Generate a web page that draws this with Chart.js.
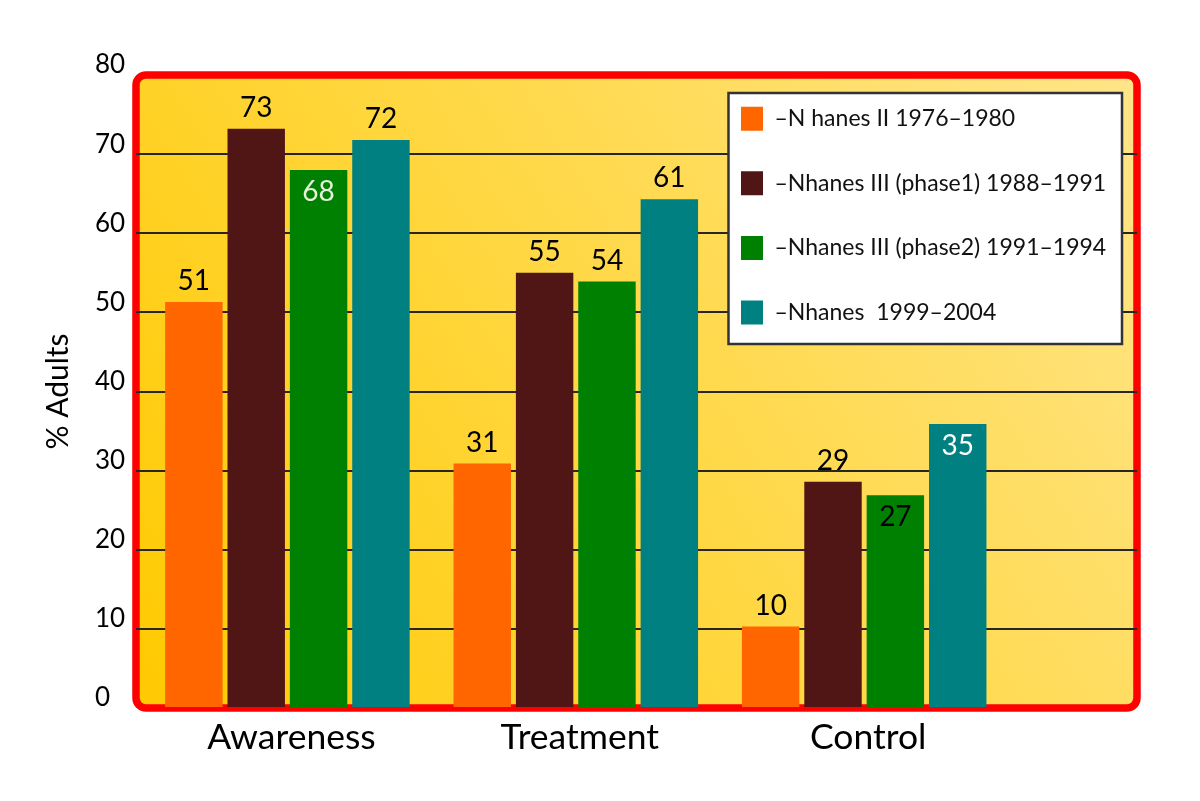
<!DOCTYPE html>
<html>
<head>
<meta charset="utf-8">
<title>Hypertension awareness, treatment and control</title>
<script src="https://cdn.jsdelivr.net/npm/chart.js@4.4.1/dist/chart.umd.min.js"></script>
<style>
  html, body { margin: 0; padding: 0; background: #fff; }
  canvas { display: block; }
</style>
</head>
<body>
<canvas id="chart" width="1200" height="801"></canvas>
<script>
// --- Data ---
const categories = ['Awareness', 'Treatment', 'Control'];
const seriesNames = [
  '\u2013N hanes II 1976\u20131980',
  '\u2013Nhanes III (phase1) 1988\u20131991',
  '\u2013Nhanes III (phase2) 1991\u20131994',
  '\u2013Nhanes  1999\u20132004'
];
// bar heights as drawn
const nhanes2 = [51.3, 30.9, 10.3];
const nhanes3p1 = [73.2, 55.0, 28.6];
const nhanes3p2 = [68.0, 53.9, 26.9];
const nhanes99 = [71.8, 64.3, 35.9];
// printed value labels
const nhanes2Labels = ['51', '31', '10'];
const nhanes3p1Labels = ['73', '55', '29'];
const nhanes3p2Labels = ['68', '54', '27'];
const nhanes99Labels = ['72', '61', '35'];
const yTickValues = [0, 10, 20, 30, 40, 50, 60, 70, 80];

const seriesValues = [nhanes2, nhanes3p1, nhanes3p2, nhanes99];
const seriesLabels = [nhanes2Labels, nhanes3p1Labels, nhanes3p2Labels, nhanes99Labels];
const seriesColors = ['#FF6600', '#501616', '#008000', '#008080'];

// labels printed inside the top of the bar (dataset-index -> colour)
const insideLabels = { '2-0': '#e6f2dc', '3-2': '#ffffff', '2-2': '#000000' };

Chart.defaults.font.family = 'Lato, "Noto Sans", sans-serif';
Chart.defaults.color = '#000';

const chartFrame = {
  id: 'chartFrame',
  afterInit(chart) {
    // draw the legend after the bars so it sits on its white box
    const lg = chart.legend;
    if (lg) lg._layers = () => [{ z: 1, draw: (area) => lg.draw(area) }];
  },
  beforeDraw(chart) {
    const { ctx, chartArea: a } = chart;
    ctx.save();
    const g = ctx.createLinearGradient(a.left, a.bottom, a.right, a.top);
    g.addColorStop(0, '#FFCA00');
    g.addColorStop(0.5, '#FFD845');
    g.addColorStop(1, '#FFE58A');
    ctx.beginPath();
    ctx.roundRect(a.left, a.top, a.right - a.left, a.bottom - a.top, 10);
    ctx.fillStyle = g;
    ctx.fill();
    ctx.lineWidth = 7.5;
    ctx.strokeStyle = '#FF0000';
    ctx.stroke();
    ctx.restore();

    const lg = chart.legend;
    if (lg) {
      const pad = lg.options.labels.padding;
      lg.left = 741 - pad;
      lg.top = 106.7 - pad;
      lg.right = chart.width;
      lg.bottom = chart.height;
      lg.width = lg.right - lg.left;
      lg.height = lg.bottom - lg.top;
    }
  },
  afterDatasetsDraw(chart) {
    const { ctx } = chart;
    ctx.save();
    ctx.font = '28px Lato';
    ctx.textAlign = 'center';
    ctx.textBaseline = 'middle';
    chart.data.datasets.forEach((ds, i) => {
      chart.getDatasetMeta(i).data.forEach((bar, j) => {
        const key = i + '-' + j;
        if (insideLabels[key]) {
          ctx.fillStyle = insideLabels[key];
          ctx.fillText(seriesLabels[i][j], bar.x, bar.y + 22);
        } else {
          ctx.fillStyle = '#000';
          ctx.fillText(seriesLabels[i][j], bar.x, bar.y - 21);
        }
      });
    });
    // legend box
    ctx.fillStyle = '#fff';
    ctx.strokeStyle = '#333';
    ctx.lineWidth = 2.5;
    ctx.fillRect(728.5, 93, 393.5, 251);
    ctx.strokeRect(728.5, 93, 393.5, 251);
    ctx.restore();
  }
};

new Chart(document.getElementById('chart'), {
  type: 'bar',
  data: {
    datasets: seriesValues.map((vals, i) => ({
      label: seriesNames[i],
      data: vals.map((v, j) => ({ x: j + 1, y: v })),
      backgroundColor: seriesColors[i],
      borderWidth: 0,
      categoryPercentage: 0.865,
      barPercentage: 0.921
    }))
  },
  options: {
    responsive: false,
    animation: false,
    devicePixelRatio: 1,
    layout: { padding: { top: 75, right: 63, bottom: 0, left: 95 } },
    plugins: {
      legend: {
        position: 'chartArea',
        align: 'start',
        labels: {
          boxWidth: 22,
          boxHeight: 24,
          padding: 40.6,
          color: '#111',
          font: { size: 23 }
        }
      },
      tooltip: { enabled: false }
    },
    scales: {
      x: {
        type: 'linear',
        offset: false,
        min: 0.475,
        max: 3.946,
        afterBuildTicks: (s) => { s.ticks = categories.map((c, i) => ({ value: i + 1 })); },
        afterFit: (s) => { s.height = 93; },
        grid: { display: false },
        border: { display: false },
        ticks: {
          callback: (v) => categories[v - 1] || '',
          font: { size: 35.5 },
          color: '#000',
          padding: 0,
          labelOffset: 4,
          maxRotation: 0
        }
      },
      y: {
        min: 0,
        max: 80,
        afterBuildTicks: (s) => { s.ticks = yTickValues.map(v => ({ value: v })); },
        afterFit: (s) => { s.width = 41; },
        border: { display: false },
        grid: {
          drawTicks: false,
          lineWidth: 2,
          color: (c) => (c.tick && c.tick.value > 0 && c.tick.value < 80) ? '#262626' : 'rgba(0,0,0,0)'
        },
        ticks: {
          font: { size: 26 },
          color: '#000',
          crossAlign: 'far',
          padding: 11,
          labelOffset: -10
        },
        title: {
          display: true,
          text: '% Adults',
          font: { size: 30 },
          color: '#000',
          padding: { top: -55, bottom: 0 }
        }
      }
    }
  },
  plugins: [chartFrame]
});
</script>
</body>
</html>
